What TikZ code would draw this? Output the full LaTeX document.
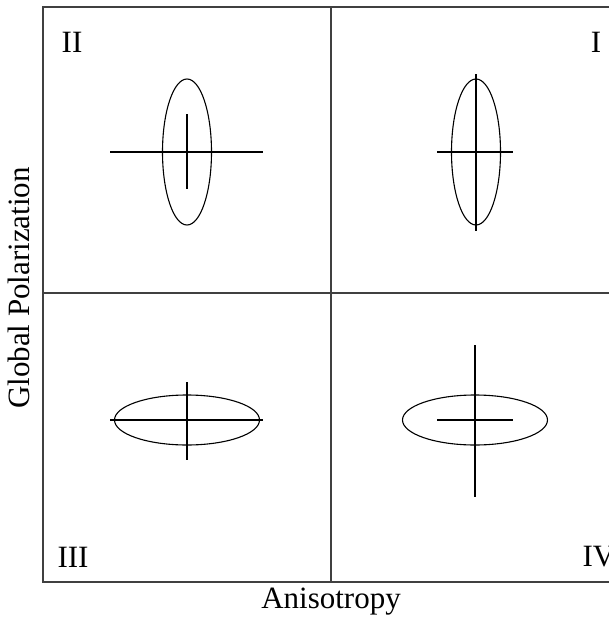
\documentclass[tikz,border=0pt]{standalone}
\usepackage{fontspec}
\setmainfont{Liberation Serif}
\usetikzlibrary{shapes.geometric, positioning}

\begin{document}
\begin{tikzpicture}[
  x=1pt, y=-1pt,
  font=\fontsize{31}{36}\selectfont,
  frame/.style={draw=black!75, line width=1.3pt},
  oval/.style={draw, ellipse, line width=1.1pt, inner sep=0pt},
  tall/.style={oval, minimum width=49pt, minimum height=146pt},
  flat/.style={oval, minimum width=145pt, minimum height=50pt},
  bar/.style={line width=1.1pt}]
\useasboundingbox (0,0) rectangle (609,618);
% quadrants
\draw[frame] (43,7) rectangle (622,582);
\draw[frame] (331,7) -- (331,582);
\draw[frame] (43,293) -- (622,293);
% labels
\node (q2) at (72,42) {II};
\node (q1) at (596,42) {I};
\node (q3) at (73,557) {III};
\node[anchor=west] (q4) at (579,557) {IV};
\node[rotate=90] (ylab) at (19,288) {Global Polarization};
\node (xlab) at (331,602) {Anisotropy};
% ellipses
\node[tall] (e2) at (187,152) {};
\node[tall] (e1) at (476,152) {};
\node[flat] (e3) at (187,420) {};
\node[flat] (e4) at (475,420) {};
% crosses
\draw[bar] ([xshift=-77pt]e2.center) -- ([xshift=76pt]e2.center);
\draw[bar] ([yshift=38pt]e2.center) -- ([yshift=-37pt]e2.center);
\draw[bar] ([xshift=-39pt]e1.center) -- ([xshift=37pt]e1.center);
\draw[bar] ([yshift=4pt]e1.north) -- ([yshift=-5pt]e1.south);
\draw[bar] ([xshift=-77pt]e3.center) -- ([xshift=76pt]e3.center);
\draw[bar] ([yshift=38pt]e3.center) -- ([yshift=-40pt]e3.center);
\draw[bar] ([xshift=-38pt]e4.center) -- ([xshift=38pt]e4.center);
\draw[bar] ([yshift=75pt]e4.center) -- ([yshift=-77pt]e4.center);
\end{tikzpicture}
\end{document}
